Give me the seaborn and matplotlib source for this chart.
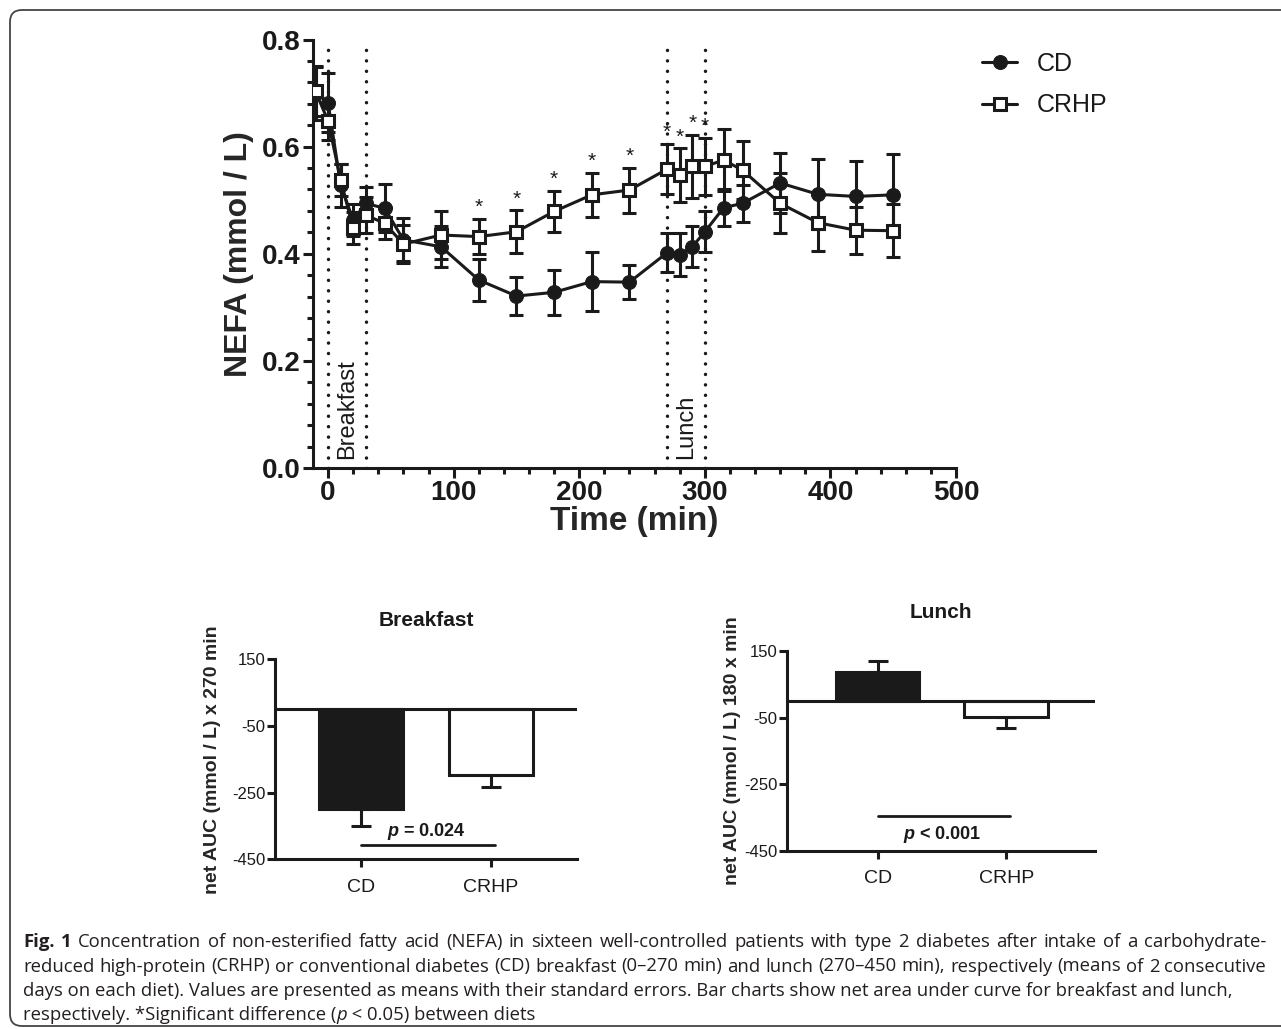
import matplotlib
matplotlib.use('Agg')
import matplotlib.pyplot as plt
from matplotlib.patches import FancyBboxPatch
from matplotlib.ticker import MultipleLocator, FormatStrFormatter
import pandas as pd
import seaborn as sns

# ===================== Data =====================
time_min = [-10, 0, 10, 20, 30, 45, 60, 90, 120, 150, 180, 210, 240,
            270, 280, 290, 300, 315, 330, 360, 390, 420, 450]
cd_mean = [0.700, 0.682, 0.528, 0.463, 0.494, 0.485, 0.426, 0.413, 0.351, 0.321, 0.328, 0.348, 0.347,
           0.402, 0.398, 0.413, 0.441, 0.486, 0.494, 0.532, 0.511, 0.507, 0.510]
cd_sem = [0.050, 0.055, 0.040, 0.030, 0.030, 0.045, 0.040, 0.038, 0.040, 0.035, 0.042, 0.055, 0.032,
          0.037, 0.040, 0.038, 0.038, 0.035, 0.035, 0.056, 0.065, 0.067, 0.077]
crhp_mean = [0.703, 0.648, 0.538, 0.448, 0.472, 0.457, 0.418, 0.435, 0.432, 0.441, 0.479, 0.510, 0.519,
             0.558, 0.547, 0.563, 0.563, 0.575, 0.556, 0.494, 0.458, 0.444, 0.443]
crhp_sem = [0.045, 0.035, 0.030, 0.030, 0.034, 0.030, 0.035, 0.044, 0.033, 0.040, 0.038, 0.041, 0.042,
            0.047, 0.050, 0.059, 0.054, 0.058, 0.054, 0.056, 0.052, 0.044, 0.049]
sig_times = [120, 150, 180, 210, 240, 270, 280, 290, 300]
meal_lines = [0, 30, 270, 300]

bar_groups = ['CD', 'CRHP']
breakfast_auc = [-300, -197]
breakfast_sem = [50, 35]
lunch_auc = [88, -47]
lunch_sem = [32, 33]
auc_ticks = [150, -50, -250, -450]

caption_lines = [
    "Concentration of non-esterified fatty acid (NEFA) in sixteen well-controlled patients with type 2 diabetes after intake of a carbohydrate-",
    "reduced high-protein (CRHP) or conventional diabetes (CD) breakfast (0\u2013270 min) and lunch (270\u2013450 min), respectively (means of 2 consecutive",
    "days on each diet). Values are presented as means with their standard errors. Bar charts show net area under curve for breakfast and lunch,",
    "respectively. *Significant difference (",
]

# ===================== Style =====================
W, H = 1281, 1029
INK = '#1a1a1a'
LW = 2.2

sns.set_theme(style='ticks')
plt.rcParams['font.family'] = ['Liberation Sans', 'DejaVu Sans']
plt.rcParams['axes.unicode_minus'] = False
plt.rcParams['mathtext.fontset'] = 'custom'
plt.rcParams['mathtext.rm'] = 'Liberation Sans'
plt.rcParams['mathtext.it'] = 'Liberation Sans:italic'
plt.rcParams['mathtext.bf'] = 'Liberation Sans:bold'
plt.rcParams['mathtext.bfit'] = 'Liberation Sans:italic:bold'
plt.rcParams['text.color'] = INK
plt.rcParams['axes.edgecolor'] = INK
plt.rcParams['xtick.color'] = INK
plt.rcParams['ytick.color'] = INK

fig = plt.figure(figsize=(W / 100, H / 100), dpi=100)
fig.patch.set_facecolor('white')

# rounded frame around the figure
frame = FancyBboxPatch((10, 3), 1300, H - 13, boxstyle='round,pad=0,rounding_size=12',
                       transform=None, fill=False, edgecolor='#444444', linewidth=1.3)
fig.patches.append(frame)


def px_axes(left, top, right, bottom):
    return fig.add_axes([left / W, 1 - bottom / H, (right - left) / W, (bottom - top) / H])


# ===================== Main time course =====================
ax = px_axes(313, 39.5, 956, 468)

for t in meal_lines:
    ax.axvline(t, color=INK, lw=2.5, ls=(0, (0.01, 3.0)), dash_capstyle='round', zorder=1)

ax.errorbar(time_min, cd_mean, yerr=cd_sem, fmt='none', ecolor=INK, elinewidth=LW,
            capsize=5, capthick=LW, zorder=2)
sns.lineplot(x=time_min, y=cd_mean, ax=ax, color=INK, lw=LW, marker='o', markersize=10,
             markeredgecolor=INK, markerfacecolor=INK, label='CD', zorder=3)
ax.errorbar(time_min, crhp_mean, yerr=crhp_sem, fmt='none', ecolor=INK, elinewidth=LW,
            capsize=5, capthick=LW, zorder=4)
sns.lineplot(x=time_min, y=crhp_mean, ax=ax, color=INK, lw=LW, marker='s', markersize=9,
             markeredgecolor=INK, markerfacecolor='white', markeredgewidth=LW, label='CRHP', zorder=5)

for t in sig_times:
    i = time_min.index(t)
    ax.text(t, crhp_mean[i] + crhp_sem[i] + 0.011, '*', ha='center', va='baseline', fontsize=15)

ax.text(15, 0.017, 'Breakfast', rotation=90, ha='center', va='bottom', fontsize=17)
ax.text(285, 0.017, 'Lunch', rotation=90, ha='center', va='bottom', fontsize=17)

ax.set_xlim(-12, 500)
ax.set_ylim(0, 0.8)
ax.xaxis.set_major_locator(MultipleLocator(100))
ax.xaxis.set_minor_locator(MultipleLocator(20))
ax.yaxis.set_major_locator(MultipleLocator(0.2))
ax.yaxis.set_minor_locator(MultipleLocator(0.04))
ax.yaxis.set_major_formatter(FormatStrFormatter('%.1f'))
sns.despine(ax=ax)
for s in ['left', 'bottom']:
    ax.spines[s].set_linewidth(LW)
ax.tick_params(which='major', length=7, width=LW, labelsize=20, pad=2)
ax.tick_params(which='minor', length=4, width=LW)
for lab in ax.get_xticklabels() + ax.get_yticklabels():
    lab.set_fontweight('bold')
ax.set_xlabel('Time (min)', fontsize=24, fontweight='bold')
ax.set_ylabel('NEFA (mmol / L)', fontsize=23, fontweight='bold')
ax.xaxis.set_label_coords(0.5, -0.088)
ax.yaxis.set_label_coords(-0.092, 0.5)

handles, labels = ax.get_legend_handles_labels()
ax.legend(handles, labels, loc='upper left', bbox_to_anchor=(982 / W, 1 - 52 / H),
          bbox_transform=fig.transFigure, frameon=False, fontsize=18, borderpad=0,
          borderaxespad=0, handlelength=1.4, handletextpad=0.8, labelspacing=0.7)


# ===================== AUC bar charts =====================
def bar_panel(ax, values, sems, title, ylabel, p_label, p_line_y, p_text_y, xlim, ylab_x):
    df = pd.DataFrame({'diet': bar_groups, 'auc': values})
    sns.barplot(data=df, x='diet', y='auc', hue='diet', palette={'CD': INK, 'CRHP': 'white'},
                edgecolor=INK, linewidth=LW, width=0.65, errorbar=None, legend=False, ax=ax, zorder=2)
    low = [s if v < 0 else 0 for v, s in zip(values, sems)]
    up = [s if v > 0 else 0 for v, s in zip(values, sems)]
    ax.errorbar([0, 1], values, yerr=[low, up], fmt='none', ecolor=INK, elinewidth=LW,
                capsize=7.5, capthick=LW, zorder=1)
    ax.axhline(0, color=INK, lw=LW, zorder=3)
    ax.plot([0, 1.03], [p_line_y, p_line_y], color=INK, lw=2.0)
    ax.text(0.5, p_text_y, r'$\mathbfit{p}$' + p_label, ha='center', va='center',
            fontsize=13, fontweight='bold')
    ax.set_xlim(*xlim)
    ax.set_ylim(-450, 150)
    ax.set_yticks(auc_ticks)
    sns.despine(ax=ax)
    for s in ['left', 'bottom']:
        ax.spines[s].set_linewidth(LW)
    ax.tick_params(axis='y', length=6, width=LW, labelsize=12, pad=1)
    ax.tick_params(axis='x', length=6, width=LW, labelsize=14, pad=8)
    ax.set_xlabel('')
    ax.set_title(title, fontsize=15, fontweight='bold', pad=24)
    ax.set_ylabel(ylabel, fontsize=14, fontweight='bold')
    ax.yaxis.set_label_coords(ylab_x, 0.5)


ax_b = px_axes(275, 659.3, 577, 859.3)
bar_panel(ax_b, breakfast_auc, breakfast_sem, 'Breakfast', 'net AUC (mmol / L) x 270 min',
          ' = 0.024', -407, -367, (-0.66, 1.66), -0.18)

ax_l = px_axes(787, 651, 1095, 850.7)
bar_panel(ax_l, lunch_auc, lunch_sem, 'Lunch', 'net AUC (mmol / L) 180 x min',
          ' < 0.001', -345, -402, (-0.705, 1.69), -0.15)

# ===================== Caption =====================
cap_fs = 13.3
cap_font = ['Open Sans', 'DejaVu Sans']
cap_color = '#231f20'
cap_left, cap_right = 23, 1266
cap_y = [942, 966.5, 991, 1015]
renderer = fig.canvas.get_renderer()


def cap_text(x_px, y_px, text, **kw):
    t = fig.text(x_px / W, 1 - y_px / H, text, fontsize=cap_fs, family=cap_font,
                 va='center', ha='left', color=cap_color, **kw)
    return t.get_window_extent(renderer=renderer).x1


def chain(y_px, parts):
    x = cap_left
    for text, kw in parts:
        x = cap_text(x, y_px, text, **kw)


def justified(y_px, words):
    # words: list of (word, style kwargs); spread them across the full caption width
    widths = []
    for w, kw in words:
        t = fig.text(0, 0, w, fontsize=cap_fs, family=cap_font, **kw)
        widths.append(t.get_window_extent(renderer=renderer).width)
        t.remove()
    gap = (cap_right - cap_left - sum(widths)) / (len(words) - 1)
    x = cap_left
    for (w, kw), wd in zip(words, widths):
        cap_text(x, y_px, w, **kw)
        x += wd + gap


justified(cap_y[0], [('Fig.', {'fontweight': 'bold'}), ('1', {'fontweight': 'bold'})]
          + [(w, {}) for w in caption_lines[0].split(' ')])
justified(cap_y[1], [(w, {}) for w in caption_lines[1].split(' ')])
chain(cap_y[2], [(caption_lines[2], {})])
chain(cap_y[3], [(caption_lines[3], {}), ('p', {'style': 'italic'}),
                 (' < 0.05) between diets', {})])

fig.savefig('out.png', dpi=100, facecolor='white')
